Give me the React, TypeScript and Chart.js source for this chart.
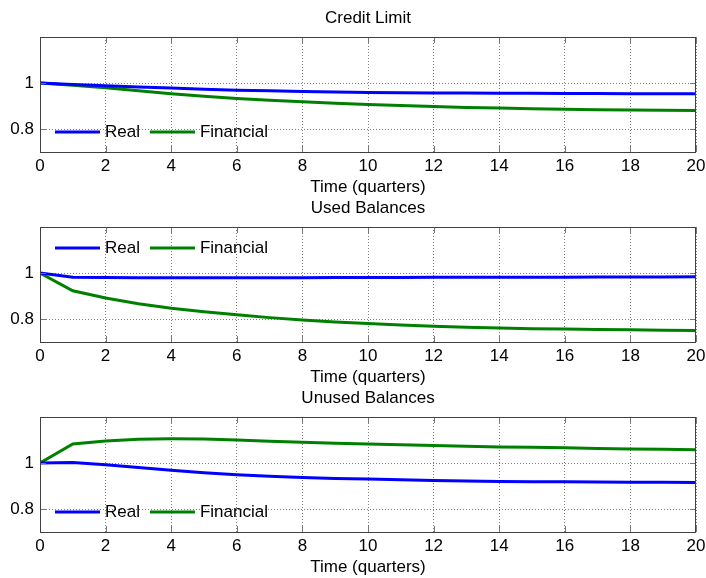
import React, { useEffect, useRef } from "react";
import { Chart, registerables } from "chart.js";

Chart.register(...registerables);

const FONT_FAMILY = "'Liberation Sans', Arial, Helvetica, sans-serif";

const QUARTERS = [0, 1, 2, 3, 4, 5, 6, 7, 8, 9, 10, 11, 12, 13, 14, 15, 16, 17, 18, 19, 20];
const SERIES_NAMES = ["Real", "Financial"];
const PANEL_TITLES = ["Credit Limit", "Used Balances", "Unused Balances"];
const X_LABEL = "Time (quarters)";
const Y_TICKS = [0.8, 1];

const CREDIT_REAL = [1, 0.994, 0.988, 0.983, 0.978, 0.973, 0.969, 0.966, 0.963, 0.961, 0.959, 0.958, 0.957, 0.956, 0.955, 0.955, 0.954, 0.954, 0.953, 0.953, 0.953];
const CREDIT_FIN = [1, 0.99, 0.979, 0.966, 0.953, 0.942, 0.933, 0.925, 0.918, 0.912, 0.907, 0.902, 0.898, 0.894, 0.891, 0.888, 0.886, 0.884, 0.883, 0.881, 0.88];

const USED_REAL = [1, 0.982, 0.98, 0.979, 0.979, 0.979, 0.979, 0.979, 0.979, 0.98, 0.98, 0.98, 0.981, 0.981, 0.982, 0.982, 0.982, 0.983, 0.983, 0.983, 0.984];
const USED_FIN = [1, 0.923, 0.891, 0.866, 0.847, 0.832, 0.818, 0.806, 0.796, 0.787, 0.78, 0.774, 0.768, 0.764, 0.761, 0.758, 0.756, 0.754, 0.753, 0.751, 0.75];

const UNUSED_REAL = [1, 1.002, 0.992, 0.98, 0.968, 0.958, 0.949, 0.942, 0.937, 0.933, 0.93, 0.927, 0.924, 0.922, 0.92, 0.919, 0.918, 0.917, 0.916, 0.916, 0.915];
const UNUSED_FIN = [1, 1.083, 1.096, 1.103, 1.105, 1.104, 1.1, 1.095, 1.09, 1.086, 1.083, 1.079, 1.076, 1.073, 1.07, 1.068, 1.066, 1.063, 1.061, 1.06, 1.058];

const COLORS = ["#0000ff", "#008000"];

type PanelProps = {
  title: string;
  real: number[];
  fin: number[];
  legendAt: "sw" | "nw";
  top: number;
};

function makeDecor(title: string, legendAt: "sw" | "nw") {
  return {
    id: "panelDecor",
    afterDraw(chart: any) {
      const { ctx, chartArea: a, scales } = chart;
      ctx.save();
      // title
      ctx.fillStyle = "#000";
      ctx.font = `17px ${FONT_FAMILY}`;
      ctx.textAlign = "center";
      ctx.textBaseline = "middle";
      ctx.fillText(title, (a.left + a.right) / 2, a.top - 19);

      // inward tick marks
      ctx.strokeStyle = "#777";
      ctx.lineWidth = 1;
      ctx.beginPath();
      scales.x.ticks.forEach((t: any) => {
        const px = Math.round(scales.x.getPixelForValue(t.value)) + 0.5;
        ctx.moveTo(px, a.top);
        ctx.lineTo(px, a.top + 6);
        ctx.moveTo(px, a.bottom);
        ctx.lineTo(px, a.bottom - 6);
      });
      scales.y.ticks.forEach((t: any) => {
        const py = Math.round(scales.y.getPixelForValue(t.value)) + 0.5;
        ctx.moveTo(a.left, py);
        ctx.lineTo(a.left + 6, py);
        ctx.moveTo(a.right, py);
        ctx.lineTo(a.right - 6, py);
      });
      ctx.stroke();

      // frame
      ctx.strokeStyle = "#404040";
      ctx.lineWidth = 1;
      ctx.strokeRect(a.left + 0.5, a.top + 0.5, a.right - a.left - 1, a.bottom - a.top);

      // legend (inside, no box)
      const ly = legendAt === "sw" ? a.bottom - 20 : a.top + 21;
      let lx = a.left + 15;
      ctx.textAlign = "left";
      chart.data.datasets.forEach((ds: any) => {
        ctx.strokeStyle = ds.borderColor;
        ctx.lineWidth = 3;
        ctx.beginPath();
        ctx.moveTo(lx, ly);
        ctx.lineTo(lx + 45, ly);
        ctx.stroke();
        lx += 50;
        ctx.fillStyle = "#000";
        ctx.fillText(ds.label, lx, ly);
        lx += ctx.measureText(ds.label).width + 10;
      });
      ctx.restore();
    },
  };
}

function Panel({ title, real, fin, legendAt, top }: PanelProps) {
  const ref = useRef<HTMLCanvasElement | null>(null);

  useEffect(() => {
    if (!ref.current) return;
    const series = [real, fin];
    const chart = new Chart(ref.current, {
      type: "line",
      data: {
        datasets: series.map((vals, i) => ({
          label: SERIES_NAMES[i],
          data: QUARTERS.map((q, j) => ({ x: q, y: vals[j] })),
          borderColor: COLORS[i],
          backgroundColor: COLORS[i],
          borderWidth: 3,
          pointRadius: 0,
          tension: 0,
          fill: false,
        })),
      },
      options: {
        animation: false,
        responsive: false,
        devicePixelRatio: 1,
        events: [],
        layout: { padding: { top: 37, right: 10, left: 0, bottom: 0 } },
        plugins: {
          legend: { display: false },
          title: { display: false },
          tooltip: { enabled: false },
        },
        scales: {
          x: {
            type: "linear",
            min: 0,
            max: 20,
            ticks: {
              stepSize: 2,
              padding: 4,
              color: "#000",
              font: { size: 17, family: FONT_FAMILY },
              maxRotation: 0,
            },
            grid: { color: "rgba(0,0,0,0.5)", lineWidth: 1, drawTicks: false },
            border: { display: false, dash: [1, 2] },
            title: {
              display: true,
              text: X_LABEL,
              color: "#000",
              font: { size: 17, family: FONT_FAMILY },
              padding: { top: 0, bottom: 2 },
            },
            afterFit: (s: any) => {
              s.height = 48;
              s.paddingRight = 0;
            },
          },
          y: {
            type: "linear",
            min: 0.7,
            max: 1.2,
            afterBuildTicks: (s: any) => {
              s.ticks = Y_TICKS.map((v) => ({ value: v }));
            },
            ticks: {
              padding: 6,
              color: "#000",
              font: { size: 17, family: FONT_FAMILY },
              callback: (v: any) => String(Math.round(Number(v) * 100) / 100),
            },
            grid: { color: "rgba(0,0,0,0.5)", lineWidth: 1, drawTicks: false },
            border: { display: false, dash: [1, 2] },
            afterFit: (s: any) => {
              s.width = 40;
            },
          },
        },
      },
      plugins: [makeDecor(title, legendAt)],
    } as any);
    return () => chart.destroy();
  }, [title, real, fin, legendAt]);

  return (
    <canvas
      ref={ref}
      width={706}
      height={200}
      style={{ position: "absolute", left: 0, top, width: 706, height: 200 }}
    />
  );
}

export default function App() {
  return (
    <div
      style={{
        position: "fixed",
        left: 0,
        top: 0,
        width: 706,
        height: 578,
        overflow: "hidden",
        background: "#fff",
      }}
    >
      <Panel title={PANEL_TITLES[0]} real={CREDIT_REAL} fin={CREDIT_FIN} legendAt="sw" top={0} />
      <Panel title={PANEL_TITLES[1]} real={USED_REAL} fin={USED_FIN} legendAt="nw" top={190} />
      <Panel title={PANEL_TITLES[2]} real={UNUSED_REAL} fin={UNUSED_FIN} legendAt="sw" top={380} />
    </div>
  );
}
